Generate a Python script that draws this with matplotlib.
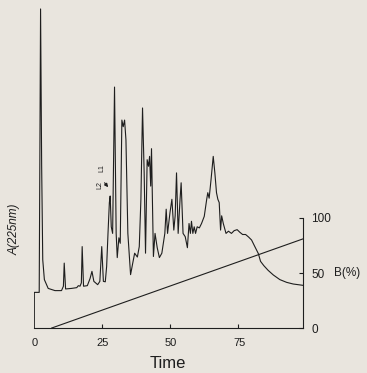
import matplotlib
matplotlib.use("Agg")
import matplotlib.pyplot as plt

# chromatogram trace (time, absorbance in arbitrary units)
trace_time = [0, 0, 1.8, 2.3, 2.7, 3.1, 3.7, 5.1, 7.6, 10.0, 10.7, 11.0, 11.5, 13.7, 15.6,
              16.2, 16.8, 17.3, 17.6, 18.1, 19.5, 20.5, 21.2, 21.9, 23.3, 24.1, 24.8, 25.4,
              26.1, 26.6, 27.1, 27.6, 27.9, 28.3, 28.8, 29.5, 30.1, 30.5, 31.1, 31.6, 32.2,
              32.7, 33.2, 33.7, 34.4, 35.4, 36.2, 36.9, 37.9, 38.6, 39.2, 39.8, 40.4, 40.9,
              41.5, 42.0, 42.4, 42.8, 43.1, 43.8, 44.4, 45.2, 46.0, 46.9, 48.0, 48.5, 49.0,
              49.9, 50.6, 51.3, 51.8, 52.3, 52.9, 53.6, 54.0, 54.7, 55.5, 56.3, 56.9, 57.4,
              57.8, 58.3, 58.8, 59.3, 59.9, 60.7, 61.5, 62.5, 63.4, 63.8, 64.3, 65.0, 65.8,
              66.4, 67.0, 67.5, 68.0, 68.5, 68.9, 69.5, 70.5, 71.4, 72.5, 73.5, 74.6, 75.6,
              76.6, 77.7, 78.8, 79.9, 81.1, 82.4, 83.2, 84.4, 86.0, 87.9, 90.3, 92.8, 95.2,
              98.8]
trace_abs = [0, 32.4, 32.4, 290, 147, 62, 44, 36, 34, 34, 38, 59, 35.5, 36, 36.7,
             38.5, 38, 41, 74, 38, 38.5, 45, 51.5, 42.4, 39.4, 42.4, 74, 42.4,
             42, 56, 86, 114, 120, 92, 86, 219, 86, 64, 82, 77, 189,
             183, 189, 171, 86, 48.5, 59, 68, 64.5, 74, 117, 200, 141, 68,
             153, 147, 156, 129, 163, 65, 86, 73, 64, 68, 86, 108, 86,
             105, 117, 89, 102, 141, 86, 117, 132, 86, 83, 73, 95, 86,
             97, 86, 92, 86, 92, 91, 95, 101.5, 117, 123, 118, 135, 156,
             141, 123, 117, 114, 89, 102, 95, 86, 88, 86, 88.5, 89.4, 87,
             85, 85, 82.7, 80, 74, 67.6, 60.6, 56.7, 52.4, 48.2, 44, 41.5, 40,
             38.8]

# linear gradient of solvent B (%)
grad_time = [6.4, 98.8]
grad_b = [0, 81]

x_ticks = [25, 50, 75]
b_ticks = [0, 50, 100]

bg = '#e9e5de'
ink = '#1e1e1e'
plt.rcParams['font.family'] = ['Liberation Sans', 'DejaVu Sans']

fig = plt.figure(figsize=(3.67, 3.73), dpi=100, facecolor=bg)
ax = fig.add_axes([0.0935, 0.1206, 0.732, 0.879])
ax.set_facecolor(bg)

ax.plot(trace_time, trace_abs, color=ink, lw=0.8)
ax.plot(grad_time, grad_b, color=ink, lw=0.8)

ax.set_xlim(0, 98.8)
ax.set_ylim(0, 298)

for s in ['top', 'left']:
    ax.spines[s].set_visible(False)
ax.spines['bottom'].set_color(ink)
ax.spines['right'].set_color(ink)
ax.spines['right'].set_bounds(0, 100)

ax.set_xticks(x_ticks)
ax.set_xticklabels([])
ax.tick_params(axis='x', direction='in', length=3, color=ink)
for t in [0] + x_ticks:
    ax.text(t + 0.3, -9, str(t), ha='center', va='top', fontsize=8, color=ink)

ax.yaxis.tick_right()
ax.set_yticks(b_ticks)
ax.set_yticklabels([str(b) for b in b_ticks])
ax.tick_params(axis='y', direction='in', length=3, color=ink, labelsize=8.5,
               labelcolor=ink, pad=6)
ax.text(1.115, 50, 'B(%)', transform=ax.get_yaxis_transform(), ha='left',
        va='center', fontsize=8.5, color=ink)

fig.text(0.458, 0.005, 'Time', ha='center', va='bottom', fontsize=12, color=ink)
fig.text(0.04, 0.385, 'A(225nm)', rotation=90, ha='center', va='center',
         fontsize=8.5, style='italic', color=ink)

# peak markers L1 / L2
ax.annotate('', xy=(27.8, 126), xytext=(25.2, 134),
            arrowprops=dict(arrowstyle='-|>', color=ink, lw=0.8, mutation_scale=5))
ax.text(25.0, 142, 'L1', rotation=90, fontsize=5, color=ink, ha='center', va='bottom')
ax.text(24.0, 126, 'L2', rotation=90, fontsize=5, color=ink, ha='center', va='bottom')

fig.savefig('out.png', dpi=100, facecolor=bg)
